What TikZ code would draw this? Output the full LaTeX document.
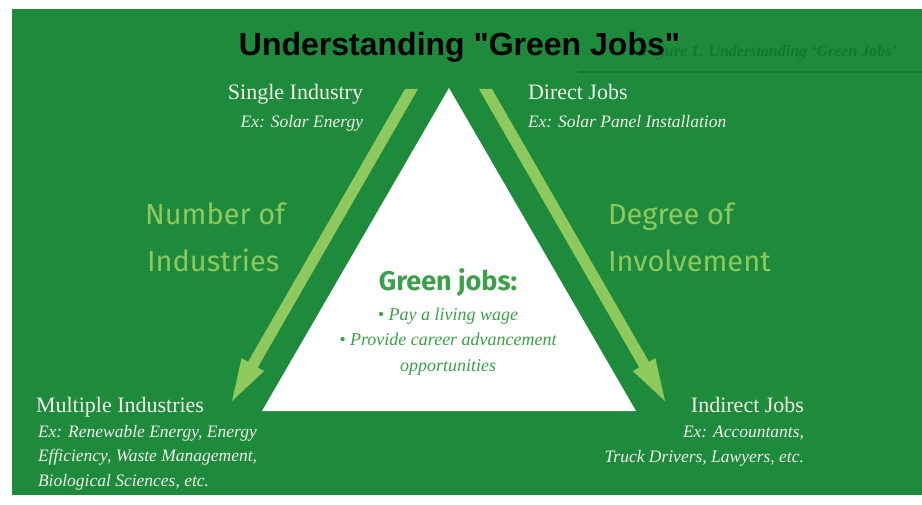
\documentclass[tikz,border=0pt]{standalone}
\usepackage{fontspec}
\setmainfont{Liberation Serif}
\newfontfamily\headfont{Liberation Sans}
\newfontfamily\dinfont{Fira Sans}

\definecolor{bggreen}{HTML}{1D8A3C}
\definecolor{leafgreen}{HTML}{8DC95C}
\definecolor{jobgreen}{HTML}{3C9F4A}
\definecolor{capgreen}{HTML}{10792C}
\definecolor{paper}{HTML}{F2F2EC}

\tikzset{
  txt/.style={inner sep=0pt, outer sep=0pt},
  levelname/.style={txt, text=paper, font=\fontsize{22}{24}\selectfont},
  example/.style={txt, text=paper, font=\fontsize{17.5}{20}\selectfont\itshape},
  axislabel/.style={txt, text=leafgreen, font=\dinfont\fontsize{29}{32}\selectfont},
  jobhead/.style={txt, text=jobgreen, font=\dinfont\bfseries\fontsize{27}{30}\selectfont},
  jobitem/.style={txt, text=jobgreen, font=\fontsize{18}{20}\selectfont\itshape},
  bigarrow/.style={fill=leafgreen},
}

\begin{document}
\begin{tikzpicture}[x=1pt, y=-1pt]
  \useasboundingbox (0,0) rectangle (922,505);
  \fill[white] (0,0) rectangle (922,505);
  % green panel
  \fill[bggreen] (12,9) rectangle (922,495);

  % faint figure caption and rule behind the title
  \node[txt, anchor=base east, text=capgreen, font=\fontsize{16}{18}\selectfont\bfseries\itshape]
    (caption) at (897,57) {Figure 1. Understanding `Green Jobs'};
  \draw[capgreen, line width=1.2pt] (578,72) -- (922,72);

  % title
  \node[txt, anchor=base, font=\headfont\bfseries\fontsize{32}{36}\selectfont]
    (title) at (459.5,56) {Understanding "Green Jobs"};

  % central triangle
  \fill[white] (449,88) -- (636,411) -- (262,411) -- cycle;

  % left arrow: single industry -> multiple industries
  \fill[bigarrow] (405,89) -- (418,89) -- (257.8,367.4) -- (264.2,371.1)
    -- (232,401) -- (241.6,358.1) -- (248.0,361.8) -- cycle;
  % right arrow: direct jobs -> indirect jobs
  \fill[bigarrow] (492,89) -- (479,89) -- (639.2,367.4) -- (632.8,371.1)
    -- (665,401) -- (655.4,358.1) -- (649.0,361.8) -- cycle;

  % top left
  \node[levelname, anchor=base east] (single) at (363,100) {Single Industry};
  \node[example, anchor=base east] (singleex) at (363,128) {Ex: Solar Energy};

  % top right
  \node[levelname, anchor=base west] (direct) at (528,100) {Direct Jobs};
  \node[example, anchor=base west] (directex) at (528,128) {Ex: Solar Panel Installation};

  % axis labels
  \node[axislabel, anchor=base west] (num1) at (145,225) {Number of};
  \node[axislabel, anchor=base west] (num2) at (147,272) {Industries};
  \node[axislabel, anchor=base west] (deg1) at (608,225) {Degree of};
  \node[axislabel, anchor=base west] (deg2) at (608,272) {Involvement};

  % centre of the triangle
  \node[jobhead, anchor=base] (green) at (448,291) {Green jobs:};
  \node[jobitem, anchor=base] (wage) at (448,321) {\textbullet\ Pay a living wage};
  \node[jobitem, anchor=base] (career) at (448,346) {\textbullet\ Provide career advancement};
  \node[jobitem, anchor=base] (opps) at (448,371) {opportunities};

  % bottom left
  \node[levelname, anchor=base west] (multi) at (36,412) {Multiple Industries};
  \node[example, anchor=base west] (multi1) at (38,437) {Ex: Renewable Energy, Energy};
  \node[example, anchor=base west] (multi2) at (38,461) {Efficiency, Waste Management,};
  \node[example, anchor=base west] (multi3) at (38,486) {Biological Sciences, etc.};

  % bottom right
  \node[levelname, anchor=base east] (indirect) at (804,412) {Indirect Jobs};
  \node[example, anchor=base east] (indirect1) at (804,437) {Ex: Accountants,};
  \node[example, anchor=base east] (indirect2) at (804,462) {Truck Drivers, Lawyers, etc.};
\end{tikzpicture}
\end{document}
